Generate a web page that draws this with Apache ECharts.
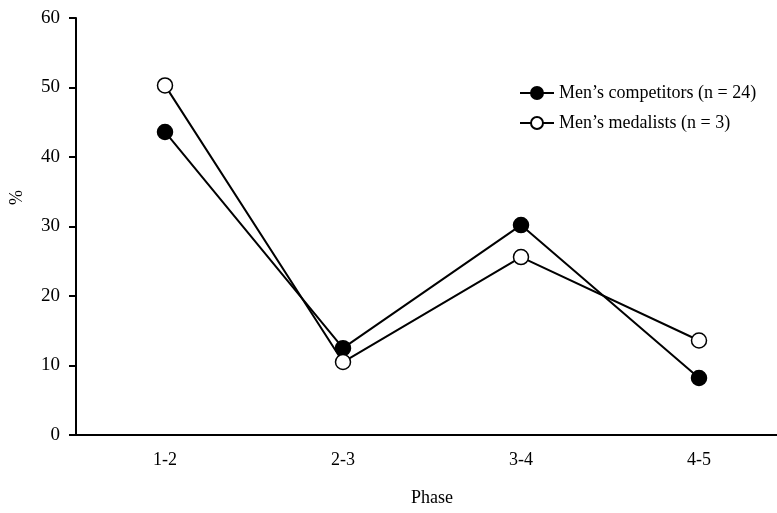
<!DOCTYPE html>
<html>
<head>
<meta charset="utf-8">
<script src="https://cdn.jsdelivr.net/npm/echarts@6/dist/echarts.min.js"></script>
<style>html,body{margin:0;padding:0;background:#fff;overflow:hidden}#c{width:788px;height:513px}</style>
</head>
<body>
<div id="c"></div>
<script>
const categories = ['1-2', '2-3', '3-4', '4-5'];
const competitors = [43.6, 12.5, 30.2, 8.2];
const medalists = [50.3, 10.5, 25.6, 13.6];
const seriesNames = ["Men\u2019s competitors (n = 24)", "Men\u2019s medalists (n = 3)"];
const yTicks = { min: 0, max: 60, interval: 10 };

const font = 'Liberation Serif, Times New Roman, serif';
const chart = echarts.init(document.getElementById('c'), null, { renderer: 'canvas' });
chart.setOption({
  animation: false,
  backgroundColor: '#fff',
  textStyle: { fontFamily: font },
  grid: { left: 76, top: 18, right: 0, height: 417, containLabel: false },
  legend: {
    orient: 'vertical', left: 514, top: 79, itemWidth: 34, itemHeight: 15, itemGap: 12,
    textStyle: { fontFamily: font, fontSize: 18, color: '#000' },
    data: seriesNames
  },
  xAxis: {
    type: 'category', data: categories, boundaryGap: true,
    axisLine: { lineStyle: { color: '#000', width: 2 } },
    axisTick: { show: false },
    axisLabel: { color: '#000', fontSize: 18, fontFamily: font, margin: 16 },
    splitLine: { show: false }
  },
  yAxis: {
    type: 'value', min: yTicks.min, max: yTicks.max, interval: yTicks.interval,
    axisLine: { show: true, lineStyle: { color: '#000', width: 2 } },
    axisTick: { show: true, length: 7, lineStyle: { color: '#000', width: 2 } },
    axisLabel: { color: '#000', fontSize: 19, fontFamily: font, margin: 16 },
    splitLine: { show: false }
  },
  graphic: [
    { type: 'text', left: 8, top: 190, rotation: Math.PI / 2,
      style: { text: '%', font: '18px ' + font, fill: '#000' } },
    { type: 'text', left: 411, top: 489,
      style: { text: 'Phase', font: '18px ' + font, fill: '#000' } }
  ],
  series: [
    { name: seriesNames[0], type: 'line', data: competitors, symbol: 'circle', symbolSize: 15,
      lineStyle: { color: '#000', width: 2 },
      itemStyle: { color: '#000', borderColor: '#000', borderWidth: 1.5 } },
    { name: seriesNames[1], type: 'line', data: medalists, symbol: 'circle', symbolSize: 15,
      lineStyle: { color: '#000', width: 2 },
      itemStyle: { color: '#fff', borderColor: '#000', borderWidth: 1.5 } }
  ]
});
</script>
</body>
</html>
